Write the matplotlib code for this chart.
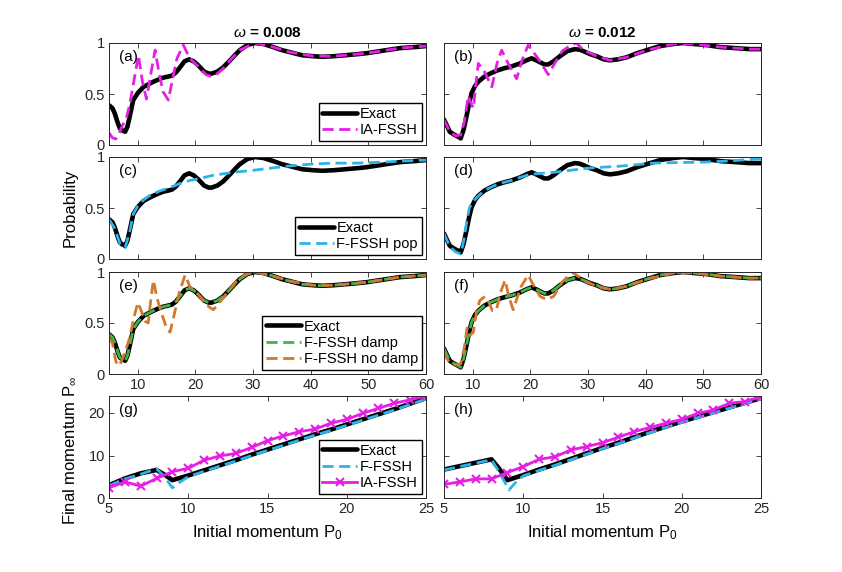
import matplotlib
matplotlib.use("Agg")
import matplotlib.pyplot as plt

plt.rcParams['font.family'] = ['Liberation Sans', 'DejaVu Sans']
plt.rcParams['mathtext.fontset'] = 'custom'
plt.rcParams['mathtext.rm'] = 'Liberation Sans'
plt.rcParams['mathtext.it'] = 'Liberation Sans:italic'
plt.rcParams['font.size'] = 10

# ---- probability panels, omega = 0.008 (left column) ----
x_exact_l = [5.0, 5.6, 6.0, 6.5, 6.9, 7.4, 7.8, 8.2, 8.6, 9.2, 10.0, 11.0, 12.0, 12.7, 13.5,
             14.4, 15.2, 15.9, 16.6, 17.3, 18.1, 18.9, 19.7, 20.5, 21.5, 22.3, 22.8, 23.8,
             24.8, 26.0, 27.0, 27.7, 29.0, 30.3, 31.8, 33.5, 35.0, 36.4, 38.5, 40.5, 42.0,
             43.9, 46.0, 48.0, 49.7, 52.0, 55.5, 58.0, 60.0]
p_exact_l = [0.39, 0.36, 0.31, 0.22, 0.16, 0.14, 0.13, 0.18, 0.28, 0.44, 0.51, 0.57, 0.60,
             0.62, 0.64, 0.66, 0.67, 0.68, 0.71, 0.76, 0.82, 0.84, 0.82, 0.78, 0.72, 0.70,
             0.70, 0.72, 0.76, 0.83, 0.89, 0.93, 0.98, 1.00, 0.99, 0.96, 0.93, 0.91, 0.88,
             0.87, 0.865, 0.87, 0.88, 0.89, 0.90, 0.92, 0.95, 0.96, 0.97]

x_ia_l = [5.0, 5.6, 6.2, 6.8, 7.4, 8.0, 8.6, 9.3, 10.1, 10.8, 11.5, 12.2, 13.0, 13.7, 14.4,
          15.3, 16.0, 16.8, 17.9, 19.0, 20.5, 21.8, 22.8, 23.8, 24.8, 26.0, 27.7, 30.3,
          33.5, 36.4, 40.5, 43.9, 49.7, 55.5, 60.0]
p_ia_l = [0.12, 0.07, 0.06, 0.12, 0.20, 0.26, 0.40, 0.62, 0.88, 0.62, 0.45, 0.68, 0.93,
          0.70, 0.52, 0.44, 0.64, 0.85, 0.98, 0.85, 0.77, 0.69, 0.67, 0.70, 0.75, 0.83,
          0.93, 1.00, 0.96, 0.91, 0.87, 0.87, 0.90, 0.95, 0.97]

x_pop_l = [5.0, 6.0, 6.9, 7.8, 8.6, 9.2, 10.0, 11.0, 12.0, 13.5, 15.0, 16.0, 17.3, 19.0,
           20.8, 23.0, 26.6, 30.0, 33.0, 35.8, 40.0, 43.9, 48.0, 52.6, 56.0, 60.0]
p_pop_l = [0.39, 0.30, 0.15, 0.11, 0.27, 0.44, 0.52, 0.58, 0.62, 0.66, 0.69, 0.71, 0.74,
           0.77, 0.79, 0.82, 0.85, 0.87, 0.89, 0.91, 0.93, 0.94, 0.94, 0.95, 0.96, 0.97]

x_nodamp_l = [5.0, 5.6, 6.2, 6.8, 7.4, 8.0, 8.6, 9.3, 10.0, 10.6, 11.2, 11.8, 12.3, 12.7,
              13.3, 14.2, 15.0, 15.6, 16.3, 17.2, 18.2, 19.0, 20.5, 21.8, 23.1, 24.2, 25.5,
              27.0, 28.5, 30.3, 33.5, 36.4, 40.5, 43.9, 49.7, 55.5, 60.0]
p_nodamp_l = [0.36, 0.30, 0.12, 0.08, 0.16, 0.25, 0.36, 0.55, 0.70, 0.62, 0.52, 0.50, 0.75,
              0.92, 0.75, 0.58, 0.45, 0.41, 0.58, 0.80, 0.97, 0.86, 0.78, 0.68, 0.63, 0.70,
              0.80, 0.90, 0.97, 1.00, 0.96, 0.91, 0.87, 0.87, 0.90, 0.95, 0.97]

# ---- probability panels, omega = 0.012 (right column) ----
x_exact_r = [5.0, 5.5, 6.0, 6.8, 7.5, 7.9, 8.4, 8.9, 9.4, 9.8, 10.4, 10.95, 12.0, 13.0, 14.2,
             15.3, 16.7, 18.2, 19.3, 20.2, 21.0, 21.7, 22.4, 23.1, 24.0, 25.1, 26.4, 27.7,
             28.5, 29.2, 30.4, 31.5, 32.7, 33.8, 35.2, 36.7, 38.5, 40.2, 42.5, 44.8, 46.5,
             48.3, 50.5, 52.9, 55.5, 58.0, 60.0]
p_exact_r = [0.25, 0.19, 0.13, 0.10, 0.08, 0.065, 0.15, 0.28, 0.42, 0.51, 0.58, 0.62, 0.67,
             0.70, 0.73, 0.75, 0.77, 0.80, 0.83, 0.85, 0.83, 0.81, 0.79, 0.79, 0.82, 0.87,
             0.92, 0.94, 0.935, 0.92, 0.89, 0.87, 0.84, 0.83, 0.84, 0.86, 0.90, 0.93, 0.97,
             0.99, 1.00, 0.99, 0.98, 0.96, 0.95, 0.94, 0.94]

x_ia_r = [5.0, 6.0, 7.0, 7.9, 8.5, 9.2, 9.6, 10.1, 10.5, 10.95, 12.0, 13.3, 14.2, 15.0, 16.3,
          17.6, 18.6, 19.6, 21.3, 23.1, 24.2, 25.5, 27.0, 28.0, 29.2, 31.5, 33.8, 36.7,
          40.2, 44.8, 48.3, 52.9, 58.0, 60.0]
p_ia_r = [0.25, 0.13, 0.09, 0.10, 0.22, 0.48, 0.42, 0.36, 0.58, 0.80, 0.72, 0.57, 0.80,
          0.93, 0.78, 0.65, 0.84, 0.98, 0.85, 0.69, 0.80, 0.92, 0.98, 1.00, 0.93, 0.87,
          0.83, 0.86, 0.93, 0.99, 0.99, 0.96, 0.94, 0.94]

x_pop_r = [5.0, 6.0, 7.0, 7.9, 8.4, 8.9, 9.4, 10.0, 11.0, 12.0, 13.0, 14.2, 15.3, 16.7,
           18.2, 19.9, 22.0, 24.0, 27.0, 29.8, 32.5, 35.5, 38.5, 41.3, 45.0, 50.0, 54.0,
           58.0, 60.0]
p_pop_r = [0.25, 0.12, 0.07, 0.05, 0.17, 0.35, 0.50, 0.56, 0.62, 0.67, 0.70, 0.73, 0.75,
           0.77, 0.80, 0.83, 0.84, 0.85, 0.87, 0.89, 0.90, 0.91, 0.925, 0.94, 0.945, 0.95,
           0.96, 0.975, 0.98]

x_nodamp_r = [5.0, 5.5, 6.0, 7.0, 7.9, 8.5, 9.0, 9.5, 10.1, 10.6, 11.2, 12.1, 12.8, 13.4,
              14.1, 14.8, 15.6, 16.3, 17.0, 18.3, 19.6, 20.7, 21.7, 22.8, 24.0, 25.5, 27.2,
              28.5, 29.5, 31.5, 33.8, 36.7, 40.2, 44.8, 48.3, 52.9, 58.0, 60.0]
p_nodamp_r = [0.22, 0.15, 0.12, 0.09, 0.10, 0.25, 0.45, 0.38, 0.41, 0.60, 0.72, 0.76, 0.70,
              0.62, 0.63, 0.80, 0.92, 0.75, 0.63, 0.85, 0.97, 0.85, 0.76, 0.73, 0.76, 0.90,
              1.00, 0.95, 0.91, 0.86, 0.83, 0.86, 0.93, 0.99, 0.99, 0.96, 0.94, 0.94]

# ---- final momentum panels ----
x_mom = [5, 6, 7, 8, 8.5, 9, 10, 11, 12, 13, 14, 15, 16, 17, 18, 19, 20, 21, 22, 23, 24, 25]
mom_exact_l = [3.0, 4.6, 5.8, 6.6, 5.5, 4.2, 5.3, 6.5, 7.7, 8.9, 10.2, 11.4, 12.6, 13.8,
               15.0, 16.1, 17.3, 18.5, 19.7, 20.9, 22.2, 23.5]
mom_exact_r = [6.7, 7.5, 8.3, 9.1, 6.8, 4.2, 5.4, 6.7, 7.9, 9.2, 10.5, 11.8, 13.0, 14.3,
               15.6, 16.8, 18.0, 19.1, 20.2, 21.3, 22.4, 23.5]

x_ff = [5, 6, 7, 8, 8.5, 9, 9.5, 10, 11, 12, 13, 14, 15, 16, 17, 18, 19, 20, 21, 22, 23, 24, 25]
mom_ff_l = [2.9, 4.5, 5.6, 6.9, 5.0, 2.4, 3.8, 5.0, 6.3, 7.5, 8.7, 10.0, 11.2, 12.4, 13.6,
            14.8, 15.9, 17.1, 18.3, 19.5, 20.7, 22.0, 23.3]
x_ff_r = [5, 6, 7, 8, 8.5, 9.1, 9.6, 10, 11, 12, 13, 14, 15, 16, 17, 18, 19, 20, 21, 22, 23, 24, 25]
mom_ff_r = [6.6, 7.4, 8.2, 9.0, 6.0, 1.9, 4.0, 5.2, 6.5, 7.7, 9.0, 10.3, 11.6, 12.8, 14.1,
            15.4, 16.6, 17.8, 18.9, 20.0, 21.1, 22.2, 23.3]

x_ia_mom = list(range(5, 26))
mom_ia_l = [2.4, 3.8, 2.8, 4.6, 6.2, 7.0, 8.9, 9.9, 10.5, 11.9, 13.5, 14.6, 15.6, 16.2,
            17.6, 18.5, 19.9, 21.1, 22.3, 23.1, 24.0]
mom_ia_r = [3.2, 3.8, 4.5, 4.5, 6.0, 7.4, 9.1, 9.7, 11.3, 12.1, 13.0, 14.3, 15.6, 16.6,
            17.6, 18.5, 19.9, 20.7, 22.3, 22.7, 23.8]

MAG = '#E61EE6'
CYAN = '#2DB3E8'
GREEN = '#3DB54A'
ORANGE = '#D2782D'
DASH = (4, 2)

fig = plt.figure(figsize=(8.42, 5.72), dpi=100)

lefts = [109 / 842, 444 / 842]
w = 317 / 842
h = 102 / 572
bottoms = [1 - 145 / 572, 1 - 259 / 572, 1 - 374 / 572, 1 - 498 / 572]

axes = [[fig.add_axes([lefts[c], bottoms[r], w, h]) for c in range(2)] for r in range(4)]


def style(ax):
    ax.tick_params(direction='in', top=True, right=True, length=3.5, width=0.6,
                   labelsize=10.5, colors='#262626', pad=3)
    for s in ax.spines.values():
        s.set_linewidth(0.7)
        s.set_color('#262626')


def exact(ax, x, y):
    ax.plot(x, y, color='k', lw=3.3, label='Exact', solid_capstyle='round')


def dashed(ax, x, y, color, label, lw=2.0):
    ax.plot(x, y, color=color, lw=lw, dashes=DASH, label=label)


def leg(ax):
    ax.legend(loc='lower right', fancybox=False, edgecolor='k', framealpha=1,
              borderpad=0.25, labelspacing=0.15, handlelength=2.4, handletextpad=0.2,
              borderaxespad=0.3, fontsize=10.5)


labels = ['(a)', '(b)', '(c)', '(d)', '(e)', '(f)', '(g)', '(h)']

# row 1: IA-FSSH
exact(axes[0][0], x_exact_l, p_exact_l)
dashed(axes[0][0], x_ia_l, p_ia_l, MAG, 'IA-FSSH')
exact(axes[0][1], x_exact_r, p_exact_r)
dashed(axes[0][1], x_ia_r, p_ia_r, MAG, 'IA-FSSH')
leg(axes[0][0])

# row 2: F-FSSH pop
exact(axes[1][0], x_exact_l, p_exact_l)
dashed(axes[1][0], x_pop_l, p_pop_l, CYAN, 'F-FSSH pop')
exact(axes[1][1], x_exact_r, p_exact_r)
dashed(axes[1][1], x_pop_r, p_pop_r, CYAN, 'F-FSSH pop')
leg(axes[1][0])

# row 3: damp / no damp
exact(axes[2][0], x_exact_l, p_exact_l)
dashed(axes[2][0], x_exact_l, p_exact_l, GREEN, 'F-FSSH damp')
dashed(axes[2][0], x_nodamp_l, p_nodamp_l, ORANGE, 'F-FSSH no damp')
exact(axes[2][1], x_exact_r, p_exact_r)
dashed(axes[2][1], x_exact_r, p_exact_r, GREEN, 'F-FSSH damp')
dashed(axes[2][1], x_nodamp_r, p_nodamp_r, ORANGE, 'F-FSSH no damp')
leg(axes[2][0])

# row 4: final momentum
exact(axes[3][0], x_mom, mom_exact_l)
dashed(axes[3][0], x_ff, mom_ff_l, CYAN, 'F-FSSH')
axes[3][0].plot(x_ia_mom, mom_ia_l, color=MAG, lw=2, marker='x', ms=6, mew=1.5, label='IA-FSSH')
exact(axes[3][1], x_mom, mom_exact_r)
dashed(axes[3][1], x_ff_r, mom_ff_r, CYAN, 'F-FSSH')
axes[3][1].plot(x_ia_mom, mom_ia_r, color=MAG, lw=2, marker='x', ms=6, mew=1.5, label='IA-FSSH')
leg(axes[3][0])

for r in range(4):
    for c in range(2):
        ax = axes[r][c]
        style(ax)
        if r < 3:
            ax.set_xlim(5, 60)
            ax.set_ylim(0, 1)
            ax.set_xticks([10, 20, 30, 40, 50, 60])
            ax.set_yticks([0, 0.5, 1])
            ax.set_yticklabels(['0', '0.5', '1'])
            if r < 2:
                ax.set_xticklabels([])
        else:
            ax.set_xlim(5, 25)
            ax.set_ylim(0, 24)
            ax.set_xticks([5, 10, 15, 20, 25])
            ax.set_yticks([0, 10, 20])
            ax.set_xlabel('Initial momentum P$_{\\mathregular{0}}$', fontsize=12, labelpad=5)
        if c == 1:
            ax.set_yticklabels([])
        ax.text(0.03, 0.86, labels[2 * r + c], transform=ax.transAxes, fontsize=11,
                va='center', ha='left')

axes[0][0].set_title(r'$\omega$ = 0.008', fontweight='bold', fontsize=11, pad=4)
axes[0][1].set_title(r'$\omega$ = 0.012', fontweight='bold', fontsize=11, pad=4)

fig.text(70 / 842, 1 - 208 / 572, 'Probability', rotation=90, fontsize=12,
         ha='center', va='center')
fig.text(70 / 842, 1 - 450 / 572, 'Final momentum P$_{\\infty}$', rotation=90, fontsize=12,
         ha='center', va='center')

fig.savefig('out.png', dpi=100)
